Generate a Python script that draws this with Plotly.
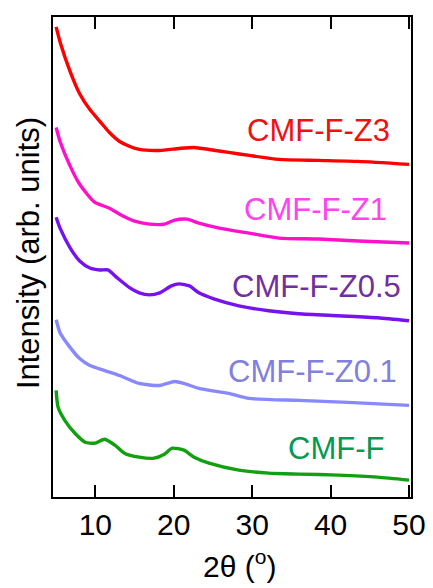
import plotly.graph_objects as go

# 2theta (degrees) and offset intensities (arb. units)
x_z3 = [5, 5.5, 6.8, 8.0, 9.3, 10.6, 11.8, 13.1, 14.4, 15.6, 18.2, 20.7, 22.6, 24.5, 27.0, 29.6, 33.4, 38.4, 43.5, 50]
y_z3 = [472, 457, 427, 405, 389, 377, 366, 357, 352, 349, 348, 350, 351, 349, 346, 343, 339, 338, 337, 334]

x_z1 = [5, 5.5, 6.8, 8.0, 9.9, 11.8, 13.1, 15.0, 16.9, 18.8, 20.1, 21.7, 23.2, 25.8, 29.6, 33.4, 38.4, 43.5, 50]
y_z1 = [371, 357, 332, 314, 296, 290, 284, 277, 274, 274, 278, 279, 275, 270, 265, 260, 259, 257, 255]

x_z05 = [5, 5.5, 6.8, 8.0, 9.3, 10.6, 11.6, 12.8, 14.4, 15.6, 16.9, 18.2, 19.7, 20.7, 22.0, 23.2, 25.1, 28.3, 32.1, 35.9, 41.0, 46.0, 50]
y_z05 = [281, 270, 250, 237, 230, 228, 228, 220, 210, 205, 203, 205, 212, 214, 212, 205, 199, 192, 187, 184, 182, 180, 177]

x_z01 = [5, 5.5, 6.8, 8.0, 9.3, 11.2, 13.1, 15.6, 18.2, 20.1, 21.3, 23.2, 27.0, 29.6, 35.9, 42.2, 50]
y_z01 = [178, 165, 150, 139, 132, 127, 122, 114, 112, 116, 114, 109, 104, 99, 97, 95, 92]

x_f = [5, 5.25, 6.1, 7.4, 8.7, 9.9, 11.2, 12.5, 13.7, 15.6, 17.5, 18.8, 19.8, 21.3, 22.6, 24.5, 28.3, 32.1, 35.9, 41.0, 46.0, 50]
y_f = [107, 90, 77, 64, 55, 54, 58, 52, 44, 40, 39, 43, 49, 47, 40, 34, 27, 24, 23, 22, 20, 17]

series = [
    ("CMF-F-Z3", x_z3, y_z3, "#ff0000", "#ee1111", 38.5, 368),
    ("CMF-F-Z1", x_z1, y_z1, "#ff11cc", "#ff44ee", 38.1, 289),
    ("CMF-F-Z0.5", x_z05, y_z05, "#7711ee", "#7030a0", 38.2, 211),
    ("CMF-F-Z0.1", x_z01, y_z01, "#8888ff", "#8080dd", 37.7, 126),
    ("CMF-F", x_f, y_f, "#11a011", "#009a50", 40.7, 49),
]

fig = go.Figure()
annotations = []
for name, xs, ys, lc, tc, ax, ay in series:
    fig.add_trace(go.Scatter(x=xs, y=ys, mode="lines", name=name,
                             line=dict(color=lc, width=3.4, shape="spline", smoothing=0.6),
                             showlegend=False))
    annotations.append(dict(x=ax, y=ay, xref="x", yref="y", text=name, showarrow=False,
                            font=dict(size=31, color=tc), xanchor="center", yanchor="middle"))

annotations.append(dict(x=-0.07, y=0.508, xref="paper", yref="paper",
                        text="Intensity (arb. units)", textangle=-90, showarrow=False,
                        font=dict(size=31, color="black"), xanchor="center", yanchor="middle"))
annotations.append(dict(x=0.522, y=-0.139, xref="paper", yref="paper",
                        text="2θ (<sup>o</sup>)", showarrow=False,
                        font=dict(size=30, color="black"), xanchor="center", yanchor="middle"))

# page body has an 8px margin, so the figure is sized/margined to put the frame at 53..413 x 15..497
fig.update_layout(
    width=425, height=580,
    margin=dict(l=45, r=20, t=7, b=91),
    paper_bgcolor="white", plot_bgcolor="white",
    font=dict(family="Liberation Sans, Arial, sans-serif", size=30, color="black"),
    annotations=annotations,
)
fig.update_xaxes(range=[4.6, 50.25], tickvals=[10, 20, 30, 40, 50], ticks="inside",
                 ticklen=12, tickwidth=2, tickcolor="black", showline=True, linewidth=2,
                 linecolor="black", mirror="ticks", showgrid=False, zeroline=False,
                 tickfont=dict(size=30))
fig.update_yaxes(range=[0, 482], showticklabels=False, ticks="", showline=True,
                 linewidth=2, linecolor="black", mirror=True, showgrid=False, zeroline=False)

fig.write_html("out.html")
